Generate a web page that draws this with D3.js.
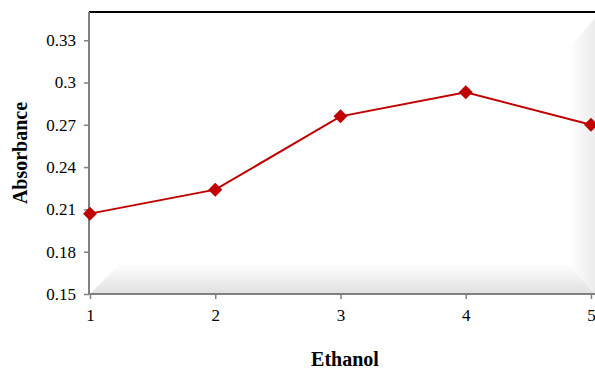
<!DOCTYPE html>
<html lang="en">

<head>
    <meta charset="UTF-8">
    <title>Absorbance vs Ethanol</title>
    <script src="https://d3js.org/d3.v7.min.js"></script>
    <style>
        body {
            margin: 0;
            background: #fff;
        }

        text {
            font-family: "Liberation Serif", "Times New Roman", serif;
        }
    </style>
</head>

<body>
    <div id="chart"></div>

    <script>
        const xValues = [1, 2, 3, 4, 5];
        const absorbance = [0.207, 0.224, 0.276, 0.293, 0.270];
        const yTicks = [0.15, 0.18, 0.21, 0.24, 0.27, 0.3, 0.33];
        const xTitle = 'Ethanol';
        const yTitle = 'Absorbance';

        const width = 595;
        const height = 370;
        const margin = { top: 12, right: 4, bottom: 76, left: 90 };

        const svg = d3.select('#chart')
            .append('svg')
            .attr('width', width)
            .attr('height', height);

        const x = d3.scaleLinear()
            .domain([1, 5])
            .range([margin.left, width - margin.right]);

        const y = d3.scaleLinear()
            .domain([0.15, 0.35])
            .range([height - margin.bottom, margin.top]);

        const x0 = margin.left, x1 = width, y0 = margin.top, y1 = height - margin.bottom;

        // 3d-ish floor and right wall
        const defs = svg.append('defs');
        const gFloor = defs.append('linearGradient')
            .attr('id', 'floor').attr('x1', 0).attr('y1', 0).attr('x2', 0).attr('y2', 1);
        gFloor.append('stop').attr('offset', '0%').attr('stop-color', '#ffffff');
        gFloor.append('stop').attr('offset', '100%').attr('stop-color', '#e0e0e0');
        const gWall = defs.append('linearGradient')
            .attr('id', 'wall').attr('x1', 0).attr('y1', 0).attr('x2', 1).attr('y2', 0);
        gWall.append('stop').attr('offset', '0%').attr('stop-color', '#ffffff');
        gWall.append('stop').attr('offset', '100%').attr('stop-color', '#ececec');

        const bev = 30;
        svg.append('path')
            .attr('d', `M${x0},${y1} L${x0 + bev},${y1 - bev} L${x1 - bev + 4},${y1 - bev} L${x1},${y1} Z`)
            .attr('fill', 'url(#floor)');
        svg.append('path')
            .attr('d', `M${x1},${y0 + 6} L${x1 - bev + 4},${y0 + 6 + bev} L${x1 - bev + 4},${y1 - bev} L${x1},${y1} Z`)
            .attr('fill', 'url(#wall)');

        // top border
        svg.append('line')
            .attr('x1', x0 - 1).attr('x2', x1)
            .attr('y1', y0).attr('y2', y0)
            .attr('stroke', '#000').attr('stroke-width', 2);

        // y axis
        const yAxis = svg.append('g')
            .attr('transform', `translate(${x0 - 1},0)`)
            .call(d3.axisLeft(y).tickValues(yTicks).tickSize(5).tickPadding(8)
                .tickFormat(d => String(+d.toFixed(2))));
        yAxis.select('.domain').attr('stroke', '#808080').attr('stroke-width', 2)
            .attr('d', `M0,${y0}V${y1 + 1}`);
        yAxis.selectAll('.tick line').attr('stroke', '#808080').attr('stroke-width', 1.5);
        yAxis.selectAll('.tick text').attr('fill', '#000').attr('font-size', 17);

        // x axis
        const xAxis = svg.append('g')
            .attr('transform', `translate(0,${y1})`)
            .call(d3.axisBottom(x).tickValues(xValues).tickSize(5).tickPadding(10)
                .tickFormat(d3.format('d')));
        xAxis.select('.domain').attr('stroke', '#808080').attr('stroke-width', 2)
            .attr('d', `M${x0 - 2},0H${x1}`);
        xAxis.selectAll('.tick line').attr('stroke', '#808080').attr('stroke-width', 1.5);
        xAxis.selectAll('.tick text').attr('fill', '#000').attr('font-size', 17);

        // line
        const data = xValues.map((v, i) => ({ x: v, y: absorbance[i] }));
        svg.append('path')
            .datum(data)
            .attr('fill', 'none')
            .attr('stroke', '#c00000')
            .attr('stroke-width', 2)
            .attr('d', d3.line().x(d => x(d.x)).y(d => y(d.y)));

        svg.append('g')
            .selectAll('path')
            .data(data)
            .join('path')
            .attr('transform', d => `translate(${x(d.x)},${y(d.y)})`)
            .attr('d', 'M0,-7L7,0L0,7L-7,0Z')
            .attr('fill', '#c00000');

        // titles
        svg.append('text')
            .attr('x', 345)
            .attr('y', 366)
            .attr('text-anchor', 'middle')
            .attr('font-size', 20)
            .attr('font-weight', 'bold')
            .text(xTitle);

        svg.append('text')
            .attr('transform', `translate(27,${(y0 + y1) / 2}) rotate(-90)`)
            .attr('text-anchor', 'middle')
            .attr('font-size', 20)
            .attr('font-weight', 'bold')
            .text(yTitle);
    </script>
</body>

</html>
